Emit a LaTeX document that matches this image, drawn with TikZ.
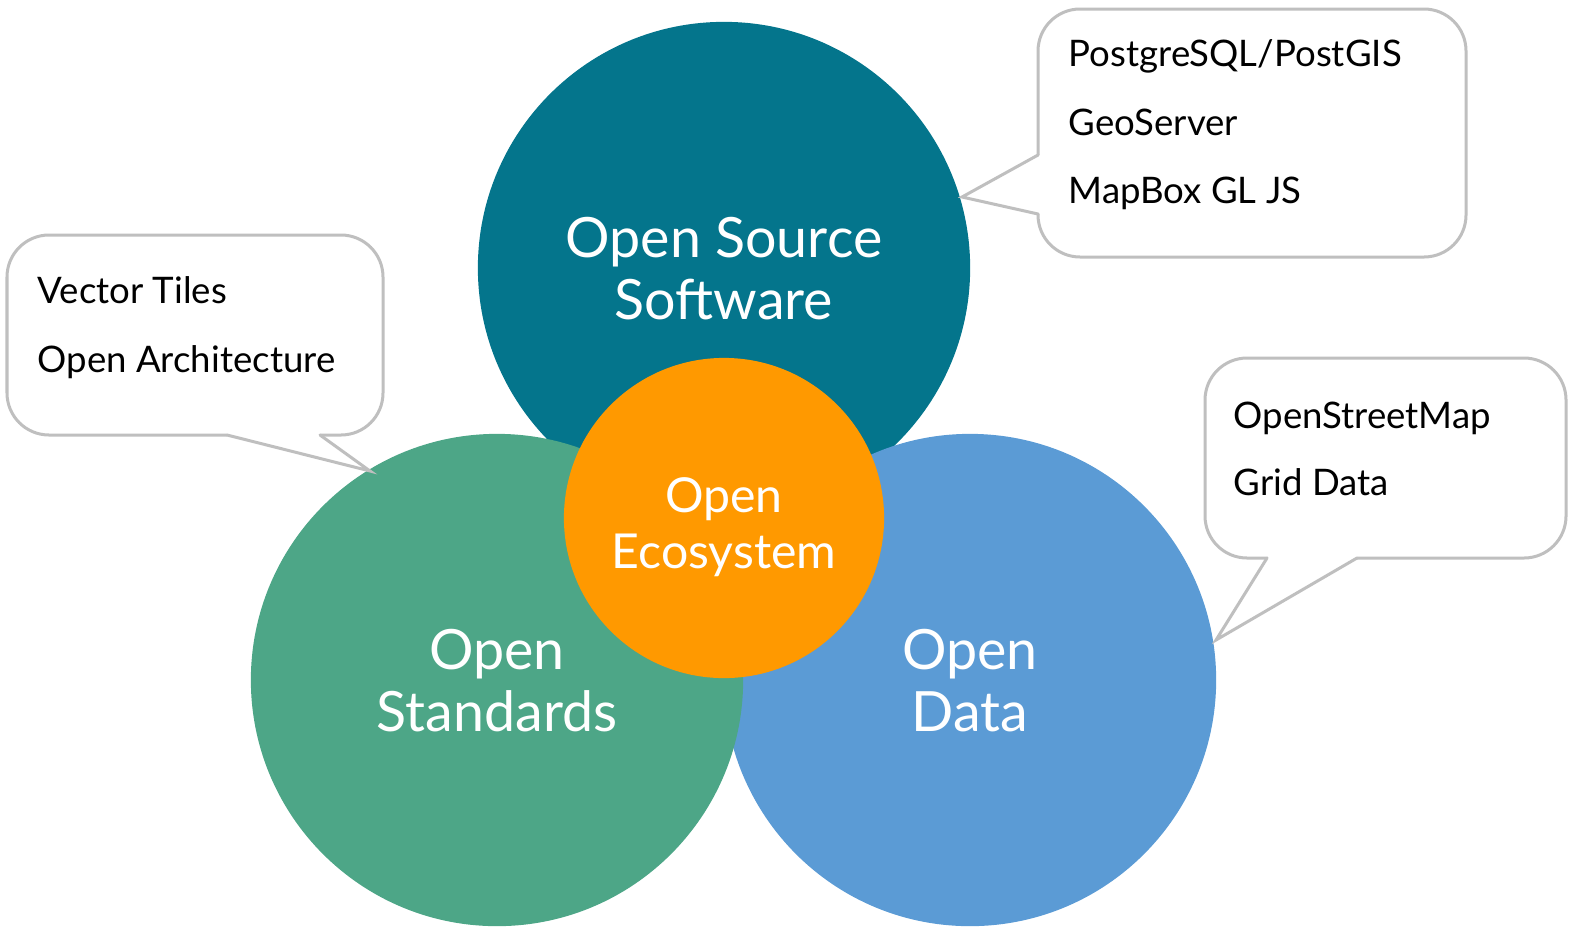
\documentclass[tikz,border=0pt]{standalone}
\usepackage{fontspec}
\setmainfont{Lato}
\usepackage{tikz}
\definecolor{ossteal}{HTML}{04758C}
\definecolor{stdgreen}{HTML}{4DA687}
\definecolor{datablue}{HTML}{5B9BD5}
\definecolor{ecoorange}{HTML}{FF9900}
\definecolor{calloutgray}{HTML}{BFBFBF}
\pgfkeys{tikz/bigcircle/.style={circle, 
                                    minimum size=4.92cm, 
                                    inner sep=0pt, 
                                    text depth=0pt,
                                    text=white, 
                                    align=center, 
                                    font=\fontsize{15.8}{17.6}\selectfont}}
\pgfkeys{tikz/midcircle/.style={bigcircle, 
                                    minimum size=3.2cm, 
                                    font=\fontsize{13.7}{16.2}\selectfont}}
\pgfkeys{tikz/callout/.style={draw=calloutgray, 
                                  fill=white, 
                                  line width=0.03cm, 
                                  line cap=round, 
                                  rounded corners=0.42cm}}
\pgfkeys{tikz/item/.style={anchor=base west, 
                               inner sep=0pt, 
                               font=\fontsize{10.4}{12}\selectfont}}

\begin{document}
\begin{tikzpicture}[x=0.01cm, y=-0.01cm]
                \useasboundingbox (0,0) rectangle (1571,930);

                \node[bigcircle, fill=ossteal] (oss) at (724,268) {Open Source\\Software};
                \node[bigcircle, fill=datablue] (data) at (970,680) {Open\\Data};
                \node[bigcircle, fill=stdgreen] (std) at (497,680) {Open\\Standards};
                \node[midcircle, fill=ecoorange] (eco) at (724,518) {\raisebox{-0.1cm}{\shortstack{Open\\[0.02cm]Ecosystem}}};

                \coordinate (tiposs) at (962,197);
                \coordinate (tipstd) at (370,471);
                \coordinate (tipdata) at (1216,640);

                \draw[callout] (1038,155) -- (1038,9) -- (1466,9) -- (1466,257) -- (1038,257) -- (1038,214);
                \draw[callout, sharp corners] (1038,214) -- (tiposs) -- (1038,155);

                \node[item] (postgis) at (1068,66) {PostgreSQL/PostGIS};
                \node[item] (geoserver) at (1068,135) {GeoServer};
                \node[item] (mapbox) at (1068,203) {MapBox GL JS};

                \draw[callout] (320,435) -- (383,435) -- (383,235) -- (7,235) -- (7,435) -- (227,435);
                \draw[callout, sharp corners] (227,435) -- (tipstd) -- (320,435);

                \node[item] (vtiles) at (37,303) {Vector Tiles};
                \node[item] (openarch) at (37,372) {Open Architecture};

                \draw[callout] (1357,558) -- (1566,558) -- (1566,358) -- (1205,358) -- (1205,558) -- (1267,558);
                \draw[callout, sharp corners] (1267,558) -- (tipdata) -- (1357,558);

                \node[item] (osm) at (1233,428) {OpenStreetMap};
                \node[item] (grid) at (1233,495) {Grid Data};

\end{tikzpicture}
\end{document}
